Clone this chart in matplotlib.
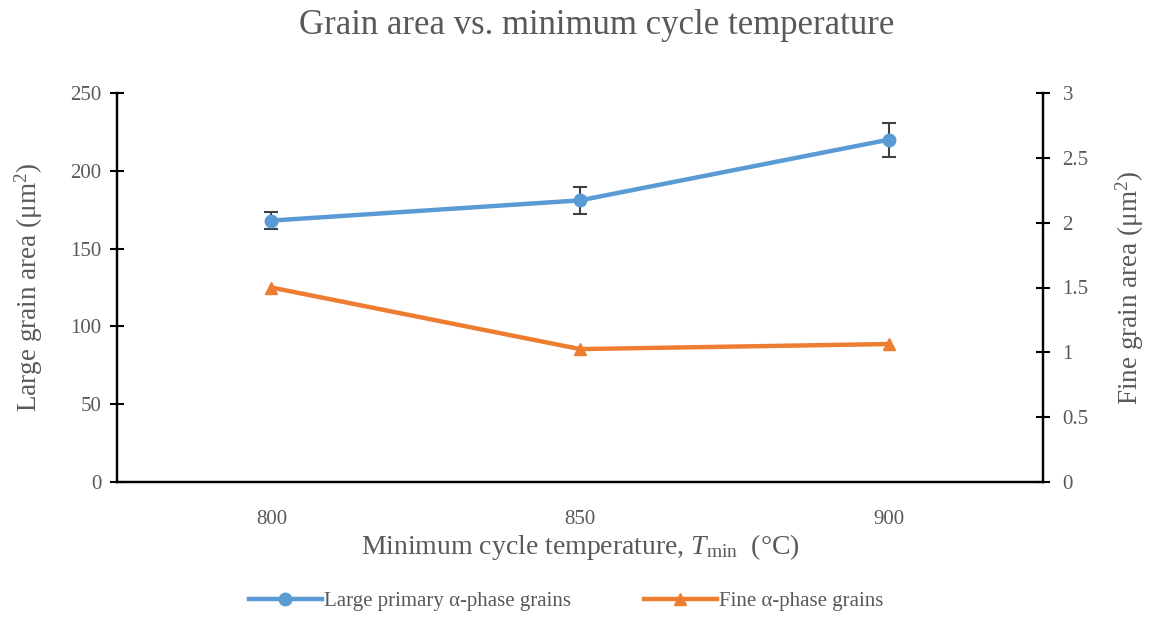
import matplotlib
matplotlib.use("Agg")
import matplotlib.pyplot as plt
from matplotlib.lines import Line2D

temps = [800, 850, 900]
large_area = [168, 181, 220]
large_err = [5.5, 8.5, 11]
fine_area = [1.50, 1.025, 1.064]

plt.rcParams['font.family'] = ['Liberation Serif', 'DejaVu Serif']
plt.rcParams['mathtext.fontset'] = 'custom'
plt.rcParams['mathtext.rm'] = 'Liberation Serif'
plt.rcParams['mathtext.it'] = 'Liberation Serif:italic'

gray = '#595959'
blue = '#5B9BD5'
orange = '#ED7D31'

fig = plt.figure(figsize=(11.5, 6.18), dpi=100)
ax = fig.add_axes([117/1150, 1-482/618, (1043-117)/1150, (482-93)/618])
ax2 = ax.twinx()

ax.errorbar(temps, large_area, yerr=large_err, color=blue, lw=3.2, marker='o', ms=9,
            ecolor='#404040', elinewidth=1.5, capsize=5, capthick=1.5, zorder=3)
ax2.plot(temps, fine_area, color=orange, lw=3.2, marker='^', ms=9, zorder=3)

ax.set_xlim(775, 925)
ax.set_ylim(0, 250)
ax2.set_ylim(0, 3)
ax.set_xticks(temps)
ax.set_yticks([0, 50, 100, 150, 200, 250])
ax2.set_yticks([0, 0.5, 1, 1.5, 2, 2.5, 3])
ax2.set_yticklabels(['0', '0.5', '1', '1.5', '2', '2.5', '3'])

for a in (ax, ax2):
    a.spines['top'].set_visible(False)
    for s in a.spines.values():
        s.set_linewidth(1.6)
        s.set_color('black')
ax.tick_params(axis='y', direction='inout', length=10, width=1.5, labelsize=15, labelcolor=gray, pad=6)
ax.tick_params(axis='x', length=0, labelsize=15, labelcolor=gray, pad=20)
ax2.tick_params(axis='y', direction='inout', length=10, width=1.5, labelsize=15, labelcolor=gray, pad=9)

ax.set_ylabel(r'Large grain area (μm$^2$)', fontsize=19.5, color=gray, labelpad=18)
ax2.set_ylabel(r'Fine grain area (μm$^2$)', fontsize=19.5, color=gray, labelpad=18)
ax.set_xlabel(r'Minimum cycle temperature, $T_{\mathrm{min}}$  (°C)', fontsize=20, color=gray, labelpad=2)
fig.text(597/1150, 1-26/618, 'Grain area vs. minimum cycle temperature', fontsize=25,
         color=gray, ha='center', va='center')

handles = [Line2D([], [], color=blue, lw=3.2, marker='o', ms=9),
           Line2D([], [], color=orange, lw=3.2, marker='^', ms=9)]
fig.legend(handles, ['Large primary α-phase grains', 'Fine α-phase grains'],
           loc='center', bbox_to_anchor=(566/1150, 1-601/618), ncol=2, frameon=False,
           fontsize=15, labelcolor=gray, handlelength=3.5, handletextpad=0.1, columnspacing=3.5)

fig.savefig('out.png', dpi=100)
